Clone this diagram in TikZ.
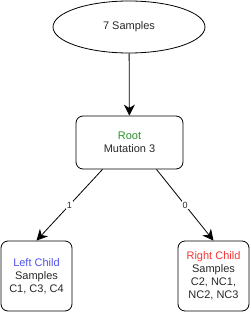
\documentclass[tikz,border=0pt]{standalone}
\usepackage{fontspec}
\setmainfont{Liberation Sans}
\usepackage{xcolor}
\usetikzlibrary{positioning, arrows.meta, shapes.geometric}

\definecolor{rootgreen}{RGB}{40,145,40}
\definecolor{leftblue}{RGB}{80,80,240}
\definecolor{rightred}{RGB}{245,55,55}
\definecolor{txtgray}{RGB}{40,40,40}

\begin{document}
\begin{tikzpicture}[
  x=1pt, y=-1pt,
  every node/.style={font=\fontsize{11}{13}\selectfont, text=txtgray},
  sample/.style={draw, line width=0.8pt, ellipse, minimum width=152pt, minimum height=52pt, inner sep=0pt},
  treebox/.style={draw, line width=0.8pt, rounded corners=7pt, align=center, inner sep=0pt},
  arrow/.style={-{Stealth[length=11pt, width=11pt, inset=3.5pt]}, line width=0.8pt},
  branch/.style={midway, fill=white, inner sep=1pt, font=\fontsize{9}{10}\selectfont}
]

\useasboundingbox (0,0) rectangle (250,312);

\node[sample] (top) at (129,27) {7 Samples};
\node[treebox, minimum width=107pt, minimum height=53pt] (root) at (129.5,142.5) {\textcolor{rootgreen}{Root}\\Mutation 3};

\node[treebox, minimum width=71pt, minimum height=70pt] (left) at (36.5,276) {\textcolor{leftblue}{Left Child}\\Samples\\C1, C3, C4};
\node[treebox, minimum width=71pt, minimum height=70pt] (right) at (213.5,276) {\textcolor{rightred}{Right Child}\\Samples\\C2, NC1,\\NC2, NC3};

\draw[arrow] (top) -- (root);
\draw[arrow] ([xshift=-27pt]root.south) -- (left.north) node[branch] {1};
\draw[arrow] ([xshift=27pt]root.south) -- (right.north) node[branch] {0};

\end{tikzpicture}
\end{document}
